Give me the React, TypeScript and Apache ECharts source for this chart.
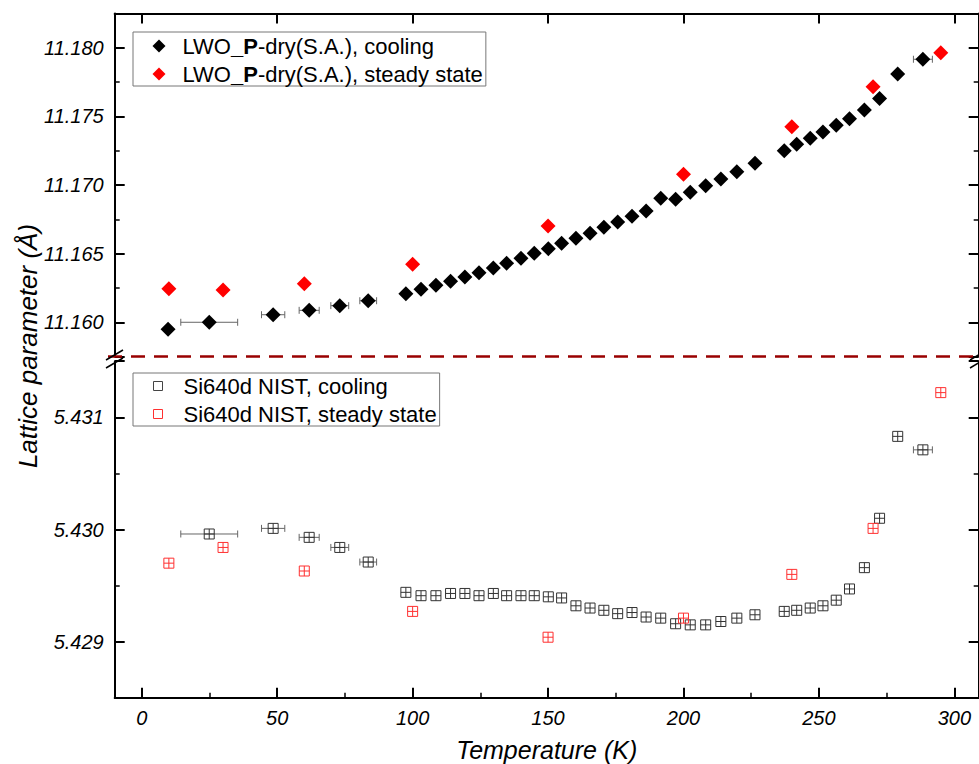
import React, { useEffect, useRef } from 'react';
import * as echarts from 'echarts';

// ---------- data ----------
const coolT = [9.7, 24.9, 48.5, 61.8, 73.1, 83.6, 97.5, 103.1, 108.6, 114.0, 119.3, 124.5, 129.8, 134.7, 140.0, 144.9, 150.1, 155.0, 160.3, 165.5, 170.6, 175.7, 181.0, 186.2, 191.6, 197.1, 202.5, 208.2, 213.8, 219.7, 226.4, 237.2, 241.8, 246.8, 251.5, 256.4, 261.3, 266.8, 272.4, 279.1, 288.4];
const coolTErr = [0, 10.5, 4.3, 3.7, 3.3, 3.1, 0, 0, 0, 0, 0, 0, 0, 0, 0, 0, 0, 0, 0, 0, 0, 0, 0, 0, 0, 0, 0, 0, 0, 0, 0, 0, 0, 0, 0, 0, 0, 0, 0, 0, 3.5];
const lwoCooling = [11.1595, 11.16, 11.16055, 11.16087, 11.16121, 11.16157, 11.16208, 11.1624, 11.16269, 11.16299, 11.1633, 11.16361, 11.16396, 11.1643, 11.16466, 11.16502, 11.16536, 11.16575, 11.16612, 11.16648, 11.16692, 11.16731, 11.16772, 11.16811, 11.16903, 11.16896, 11.16947, 11.16995, 11.17044, 11.17097, 11.17158, 11.1725, 11.17296, 11.1734, 11.17386, 11.17435, 11.17483, 11.17546, 11.17631, 11.17808, 11.17916];

const siCoolT = [24.9, 48.5, 61.8, 73.1, 83.6, 97.5, 103.1, 108.6, 114.0, 119.3, 124.5, 129.8, 134.7, 140.0, 144.9, 150.1, 155.0, 160.3, 165.5, 170.6, 175.7, 181.0, 186.2, 191.6, 197.1, 202.5, 208.2, 213.8, 219.7, 226.4, 237.2, 241.8, 246.8, 251.5, 256.4, 261.3, 266.8, 272.4, 279.1, 288.4];
const siCoolTErr = [10.5, 4.3, 3.7, 3.3, 3.1, 0, 0, 0, 0, 0, 0, 0, 0, 0, 0, 0, 0, 0, 0, 0, 0, 0, 0, 0, 0, 0, 0, 0, 0, 0, 0, 0, 0, 0, 0, 0, 0, 0, 0, 3.5];
const siCooling = [5.42996, 5.43001, 5.42993, 5.42984, 5.42971, 5.42944, 5.42941, 5.42941, 5.42943, 5.42943, 5.42941, 5.42943, 5.42941, 5.42941, 5.42941, 5.4294, 5.42939, 5.42932, 5.4293, 5.42928, 5.42925, 5.42926, 5.42922, 5.42921, 5.42916, 5.42915, 5.42915, 5.42918, 5.42921, 5.42924, 5.42927, 5.42928, 5.4293, 5.42932, 5.42937, 5.42947, 5.42966, 5.4301, 5.43083, 5.43071];

const steadyT = [10, 30, 60, 100, 150, 200, 240, 270, 295];
const lwoSteady = [11.16245, 11.16235, 11.16281, 11.16423, 11.16701, 11.17078, 11.17425, 11.17716, 11.17964];
const siSteady = [5.4297, 5.42984, 5.42963, 5.42927, 5.42904, 5.42921, 5.4296, 5.43001, 5.43122];

const NAME_LWO_COOL = 'LWO_P-dry(S.A.), cooling';
const NAME_LWO_SS = 'LWO_P-dry(S.A.), steady state';
const NAME_SI_COOL = 'Si640d NIST, cooling';
const NAME_SI_SS = 'Si640d NIST, steady state';
const X_NAME = 'Temperature (K)';
const Y_NAME = 'Lattice parameter (Å)';

// ---------- layout / style ----------
const FONT = "'Liberation Sans', Arial, Helvetica, sans-serif";
const GRID_LEFT = 114.7;
const GRID_WIDTH = 864;
const X_MIN = -10;
const X_MAX = 309;
const TOP_Y = [11.1575, 11.1825];
const BOT_Y = [5.4285, 5.4315];
const TOP_GRID = { top: 13.4, height: 343.2 };
const BOT_GRID = { top: 361.2, height: 336.6 };

const SQ_SYMBOL = 'path://M0,0L10,0L10,10L0,10Z M5,0L5,10 M0,5L10,5';

const axisLine = { show: true, onZero: false, lineStyle: { color: '#000', width: 2 } };
const tickIn = { show: true, inside: true, length: 10, lineStyle: { color: '#000', width: 2 } };
const minorIn = { show: true, splitNumber: 2, length: 5, lineStyle: { color: '#000', width: 1.5 } };
const tickLabel = { fontSize: 20, fontStyle: 'italic', fontFamily: FONT, color: '#000' };

const isMult = (v: number, step: number) => Math.abs(v / step - Math.round(v / step)) < 1e-6;

function errorBarRender(params: any, api: any) {
  const x = api.value(0);
  const y = api.value(1);
  const e = api.value(2);
  const a = api.coord([x - e, y]);
  const b = api.coord([x + e, y]);
  const h = 3.5;
  const style = { stroke: '#666', lineWidth: 1 };
  return {
    type: 'group',
    children: [
      { type: 'line', shape: { x1: a[0], y1: a[1], x2: b[0], y2: b[1] }, style },
      { type: 'line', shape: { x1: a[0], y1: a[1] - h, x2: a[0], y2: a[1] + h }, style },
      { type: 'line', shape: { x1: b[0], y1: b[1] - h, x2: b[0], y2: b[1] + h }, style },
    ],
  };
}

function buildOption(): any {
  const yAxisBase = (gridIndex: number, range: number[], split: number, step: number, left: boolean) => ({
    type: 'value',
    gridIndex,
    position: left ? 'left' : 'right',
    min: range[0],
    max: range[1],
    splitNumber: split,
    axisLine,
    axisTick: tickIn,
    minorTick: minorIn,
    splitLine: { show: false },
    axisLabel: left
      ? {
          ...tickLabel,
          margin: 11,
          showMinLabel: false,
          showMaxLabel: false,
          formatter: (v: number) => (isMult(v, step) ? v.toFixed(3) : ''),
        }
      : { show: false },
  });

  return {
    animation: false,
    backgroundColor: '#fff',
    grid: [
      { left: GRID_LEFT, width: GRID_WIDTH, top: TOP_GRID.top, height: TOP_GRID.height, containLabel: false },
      { left: GRID_LEFT, width: GRID_WIDTH, top: BOT_GRID.top, height: BOT_GRID.height, containLabel: false },
    ],
    xAxis: [
      {
        type: 'value',
        gridIndex: 0,
        position: 'top',
        min: X_MIN,
        max: X_MAX,
        axisLine,
        axisTick: tickIn,
        axisLabel: { show: false },
        splitLine: { show: false },
      },
      {
        type: 'value',
        gridIndex: 1,
        position: 'bottom',
        min: X_MIN,
        max: X_MAX,
        axisLine,
        axisTick: tickIn,
        minorTick: minorIn,
        splitLine: { show: false },
        axisLabel: {
          ...tickLabel,
          margin: 10,
          showMinLabel: false,
          showMaxLabel: false,
          formatter: (v: number) => (isMult(v, 50) ? String(v) : ''),
        },
        name: X_NAME,
        nameLocation: 'middle',
        nameGap: 40,
        nameTextStyle: { fontSize: 25, fontStyle: 'italic', fontFamily: FONT, color: '#000' },
      },
    ],
    yAxis: [
      yAxisBase(0, TOP_Y, 5, 0.005, true),
      yAxisBase(0, TOP_Y, 5, 0.005, false),
      yAxisBase(1, BOT_Y, 3, 0.001, true),
      yAxisBase(1, BOT_Y, 3, 0.001, false),
    ],
    legend: [
      {
        orient: 'vertical',
        left: 133,
        top: 32,
        data: [
          { name: NAME_LWO_COOL, icon: 'diamond' },
          { name: NAME_LWO_SS, icon: 'diamond' },
        ],
        itemWidth: 13,
        itemHeight: 13,
        itemGap: 6,
        padding: [3, 3, 1, 19.5],
        borderColor: '#777',
        borderWidth: 1,
        selectedMode: false,
        formatter: (name: string) => name.replace('_P', '{b|_P}'),
        textStyle: {
          fontSize: 22,
          fontFamily: FONT,
          color: '#000',
          padding: [0, 0, 0, 12],
          rich: { b: { fontSize: 22, fontFamily: FONT, fontWeight: 'bold', color: '#000' } },
        },
      },
      {
        orient: 'vertical',
        left: 133,
        top: 373,
        data: [
          { name: NAME_SI_COOL, icon: 'rect', itemStyle: { color: 'transparent', borderColor: '#444', borderWidth: 1 } },
          { name: NAME_SI_SS, icon: 'rect', itemStyle: { color: 'transparent', borderColor: '#ff3030', borderWidth: 1 } },
        ],
        itemWidth: 9,
        itemHeight: 9,
        itemGap: 6,
        padding: [2, 3, 1, 20],
        borderColor: '#777',
        borderWidth: 1,
        selectedMode: false,
        textStyle: { fontSize: 22, fontFamily: FONT, color: '#000', padding: [0, 0, 0, 16] },
      },
    ],
    graphic: {
      elements: [
        {
          type: 'text',
          x: 28,
          y: 346,
          rotation: Math.PI / 2,
          style: {
            text: Y_NAME,
            fontSize: 26,
            fontStyle: 'italic',
            fontFamily: FONT,
            fill: '#000',
            align: 'center',
            verticalAlign: 'middle',
          },
        },
        {
          type: 'line',
          shape: { x1: 108, y1: 356.5, x2: 979, y2: 356.5 },
          style: { stroke: '#990000', lineWidth: 2.5, lineDash: [14, 9] },
          z: 10,
        },
        { type: 'line', shape: { x1: 106, y1: 360, x2: 123, y2: 350 }, style: { stroke: '#000', lineWidth: 1.5 }, z: 11 },
        { type: 'line', shape: { x1: 106, y1: 368, x2: 123, y2: 358 }, style: { stroke: '#000', lineWidth: 1.5 }, z: 11 },
        { type: 'line', shape: { x1: 970, y1: 360, x2: 987, y2: 350 }, style: { stroke: '#000', lineWidth: 1.5 }, z: 11 },
        { type: 'line', shape: { x1: 970, y1: 368, x2: 987, y2: 358 }, style: { stroke: '#000', lineWidth: 1.5 }, z: 11 },
      ],
    },
    series: [
      {
        type: 'custom',
        name: 'lwo-err',
        xAxisIndex: 0,
        yAxisIndex: 0,
        silent: true,
        z: 1,
        renderItem: errorBarRender,
        encode: { x: 0, y: 1 },
        data: coolT.map((t, i) => [t, lwoCooling[i], coolTErr[i]]).filter((d) => d[2] > 0),
      },
      {
        type: 'custom',
        name: 'si-err',
        xAxisIndex: 1,
        yAxisIndex: 2,
        silent: true,
        z: 1,
        renderItem: errorBarRender,
        encode: { x: 0, y: 1 },
        data: siCoolT.map((t, i) => [t, siCooling[i], siCoolTErr[i]]).filter((d) => d[2] > 0),
      },
      {
        type: 'scatter',
        name: NAME_LWO_COOL,
        xAxisIndex: 0,
        yAxisIndex: 0,
        symbol: 'diamond',
        symbolSize: 15,
        z: 3,
        itemStyle: { color: '#000', opacity: 1 },
        data: coolT.map((t, i) => [t, lwoCooling[i]]),
      },
      {
        type: 'scatter',
        name: NAME_LWO_SS,
        xAxisIndex: 0,
        yAxisIndex: 0,
        symbol: 'diamond',
        symbolSize: 15,
        z: 3,
        itemStyle: { color: '#ff0000', opacity: 1 },
        data: steadyT.map((t, i) => [t, lwoSteady[i]]),
      },
      {
        type: 'scatter',
        name: NAME_SI_COOL,
        xAxisIndex: 1,
        yAxisIndex: 2,
        symbol: SQ_SYMBOL,
        symbolSize: 10,
        z: 3,
        itemStyle: { color: 'transparent', borderColor: '#333', borderWidth: 1, opacity: 1 },
        data: siCoolT.map((t, i) => [t, siCooling[i]]),
      },
      {
        type: 'scatter',
        name: NAME_SI_SS,
        xAxisIndex: 1,
        yAxisIndex: 2,
        symbol: SQ_SYMBOL,
        symbolSize: 10,
        z: 3,
        itemStyle: { color: 'transparent', borderColor: '#ff3030', borderWidth: 1, opacity: 1 },
        data: steadyT.map((t, i) => [t, siSteady[i]]),
      },
    ],
  };
}

export default function App() {
  const ref = useRef<HTMLDivElement>(null);
  useEffect(() => {
    if (!ref.current) return;
    const chart = echarts.init(ref.current, undefined, { renderer: 'svg' });
    chart.setOption(buildOption());
    return () => chart.dispose();
  }, []);
  return (
    <div
      ref={ref}
      style={{ position: 'absolute', left: 0, top: 0, width: 979, height: 764, background: '#fff' }}
    />
  );
}
